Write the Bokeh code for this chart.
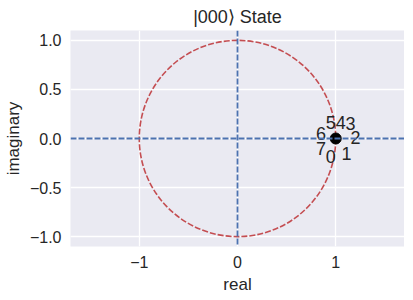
from bokeh.plotting import figure
from bokeh.models import Span, FixedTicker, ColumnDataSource
from bokeh.core.properties import value
from bokeh.embed import file_html
from bokeh.resources import INLINE

# data
state_x = [1.0]
state_y = [0.0]
labels = ["0", "1", "2", "3", "4", "5", "6", "7"]
label_x = [0.95, 1.11, 1.20, 1.15, 1.05, 0.95, 0.85, 0.85]
label_y = [-0.18, -0.15, 0.01, 0.15, 0.16, 0.16, 0.05, -0.10]
x_ticks = [-1, 0, 1]
x_tick_labels = ["\u22121", "0", "1"]
y_ticks = [-1.0, -0.5, 0.0, 0.5, 1.0]
y_tick_labels = ["\u22121.0", "\u22120.5", "0.0", "0.5", "1.0"]
title = "|000\u27e9 State"

FONT = "Liberation Sans"
TXT = "#262626"
DASH = "6 2"

p = figure(frame_width=334, frame_height=216, x_range=(-1.7, 1.7), y_range=(-1.1, 1.1),
           output_backend="svg", toolbar_location=None,
           min_border_left=0, min_border_right=0, min_border_top=0, min_border_bottom=0,
           background_fill_color="#EAEAF2", border_fill_color="white")
p.outline_line_color = None
p.title.text = title
p.title.align = "center"
p.title.text_font = FONT
p.title.text_font_size = "18px"
p.title.text_font_style = "normal"
p.title.text_color = TXT
p.title.standoff = 8

for ax in (p.xaxis, p.yaxis):
    ax.axis_line_color = None
    ax.major_tick_line_color = None
    ax.minor_tick_line_color = None
    ax.major_label_text_font = FONT
    ax.major_label_text_font_size = "16px"
    ax.major_label_text_color = TXT
    ax.axis_label_text_font = FONT
    ax.axis_label_text_font_size = "17px"
    ax.axis_label_text_font_style = "normal"
    ax.axis_label_text_color = TXT
    ax.major_label_standoff = 3
p.xaxis.axis_label_standoff = 4
p.yaxis.axis_label_standoff = 4
p.xaxis.axis_label = "real"
p.yaxis.axis_label = "imaginary"
p.xaxis.ticker = FixedTicker(ticks=x_ticks)
p.yaxis.ticker = FixedTicker(ticks=y_ticks)
p.xaxis.major_label_overrides = {t: l for t, l in zip(x_ticks, x_tick_labels)}
p.yaxis.major_label_overrides = {t: l for t, l in zip(y_ticks, y_tick_labels)}
p.grid.grid_line_color = "white"
p.grid.grid_line_width = 1.3

p.ellipse(x=0, y=0, width=2, height=2, fill_alpha=0, line_color="#C44E52",
          line_dash=DASH, line_width=1.6)
p.add_layout(Span(location=0, dimension="height", line_color="#4C72B0",
                  line_dash=DASH, line_width=1.8))
p.add_layout(Span(location=0, dimension="width", line_color="#4C72B0",
                  line_dash=DASH, line_width=1.8))

p.scatter(x=state_x, y=state_y, size=11, color="black")
src = ColumnDataSource(dict(x=label_x, y=label_y, t=labels))
p.text(x="x", y="y", text="t", source=src, text_font=value(FONT), text_font_size="18px",
       text_color=TXT, text_align="center", text_baseline="middle")

open("out.html", "w").write(file_html(p, INLINE))
